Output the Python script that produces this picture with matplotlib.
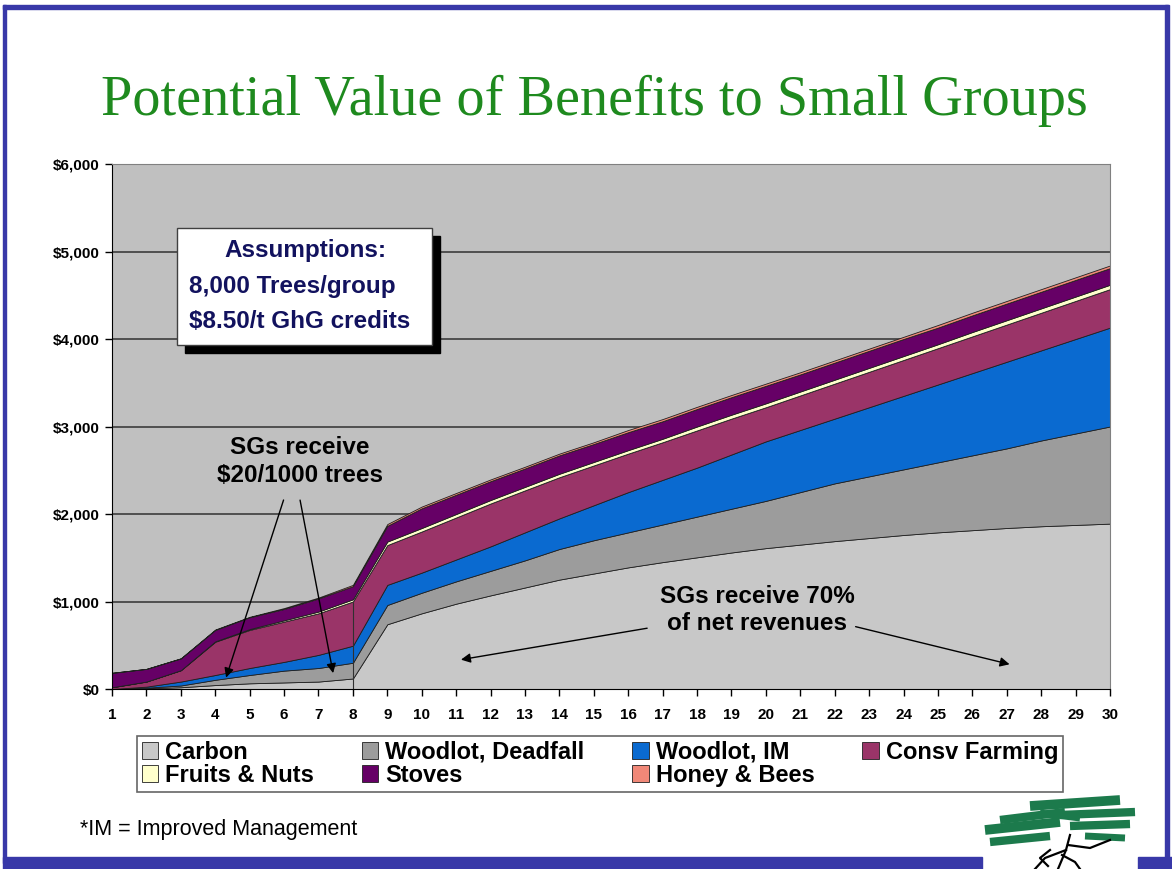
import numpy as np
import matplotlib.pyplot as plt
from matplotlib.patches import Rectangle

# values, dollars per year for one small group
years = list(range(1, 31))
carbon = [0, 8, 20, 45, 65, 75, 85, 120, 740, 865, 975, 1070, 1160, 1250, 1320,
          1390, 1450, 1505, 1560, 1610, 1650, 1690, 1725, 1760, 1790, 1815, 1840,
          1860, 1875, 1890]
deadfall = [0, 7, 20, 60, 95, 135, 155, 180, 220, 235, 255, 280, 310, 350, 380,
            400, 430, 465, 500, 540, 600, 660, 705, 750, 800, 855, 910, 980, 1045, 1110]
woodlot_im = [0, 12, 45, 55, 80, 100, 150, 195, 230, 230, 250, 280, 320, 350, 400,
              460, 510, 560, 620, 680, 710, 740, 790, 840, 890, 940, 990, 1030, 1080, 1130]
farming = [20, 58, 130, 380, 435, 460, 475, 505, 455, 470, 480, 490, 480, 470, 455,
           440, 430, 425, 410, 390, 395, 400, 405, 410, 415, 420, 425, 430, 435, 440]
fruits = [0, 0, 0, 5, 10, 15, 20, 25, 40, 40, 40, 40, 40, 40, 40, 40, 40, 45, 45,
          45, 45, 45, 45, 45, 45, 50, 50, 50, 50, 50]
stoves = [165, 145, 135, 130, 135, 130, 150, 150, 180, 225, 220, 215, 210, 210, 205,
          205, 200, 200, 200, 200, 195, 195, 195, 195, 190, 190, 190, 190, 190, 190]
honey = [0, 0, 0, 5, 5, 10, 10, 15, 20, 20, 20, 20, 20, 20, 20, 25, 25, 25, 25, 25,
         25, 25, 25, 25, 30, 30, 30, 30, 30, 30]

labels = ["Carbon", "Woodlot, Deadfall", "Woodlot, IM", "Consv Farming",
          "Fruits & Nuts", "Stoves", "Honey & Bees"]
colors = ["#c8c8c8", "#9c9c9c", "#0a6ad0", "#9a3468", "#ffffcc", "#660066", "#f08878"]
y_ticks = [0, 1000, 2000, 3000, 4000, 5000, 6000]

W, H = 1172, 869
fig = plt.figure(figsize=(W / 100, H / 100), dpi=100)

# slide decorations in pixel coordinates
bg = fig.add_axes([0, 0, 1, 1])
bg.set_xlim(0, W)
bg.set_ylim(H, 0)
bg.axis("off")
blue = "#3838a8"
bg.add_patch(Rectangle((3, 5), 1165, 4, color=blue))
bg.add_patch(Rectangle((3, 5), 3, 858, color=blue))
bg.add_patch(Rectangle((1165, 5), 4, 858, color=blue))
bg.add_patch(Rectangle((3, 857), 979, 12, color=blue))
bg.add_patch(Rectangle((1138, 857), 34, 12, color=blue))

# main chart
ax = fig.add_axes([112 / W, 1 - 689 / H, (1110 - 112) / W, (689 - 164) / H])
ax.set_facecolor("#c0c0c0")
series = [carbon, deadfall, woodlot_im, farming, fruits, stoves, honey]
polys = ax.stackplot(years, *series, labels=labels, colors=colors,
                     edgecolor="#202020", linewidth=0.6)
top_farm = np.sum(series[:4], axis=0)
ax.vlines(years[7], 0, top_farm[7], color="#303030", lw=0.8)

ax.set_xlim(1, 30)
ax.set_ylim(0, 6000)
ax.set_xticks(years)
ax.set_xticklabels([str(y) for y in years], fontweight="bold", fontsize=11,
                   family="Liberation Sans")
ax.set_yticks(y_ticks)
ax.set_yticklabels([f"${v:,}" for v in y_ticks], fontweight="bold", fontsize=11,
                   family="Liberation Sans")
ax.tick_params(direction="out", length=5, width=1, colors="black", pad=4)
ax.tick_params(axis="x", pad=9)
ax.yaxis.grid(True, color="#3c3c3c", lw=1.2)
ax.set_axisbelow(True)
for s in ["top", "right"]:
    ax.spines[s].set_color("#808080")
for s in ["left", "bottom"]:
    ax.spines[s].set_color("black")

bold = dict(fontweight="bold", family="Liberation Sans", fontsize=17.5)
ax.text(6.45, 2600, "SGs receive\n$20/1000 trees", ha="center", va="center",
        linespacing=1.25, **bold)
arrow = dict(arrowstyle="-|>", color="black", lw=1.0, mutation_scale=14)
ax.annotate("", xy=(4.29, 100), xytext=(6.01, 2190), arrowprops=arrow)
ax.annotate("", xy=(7.44, 150), xytext=(6.45, 2190), arrowprops=arrow)

ax.text(19.74, 905, "SGs receive 70%\nof net revenues", ha="center", va="center",
        linespacing=1.25, **bold)
ax.annotate("", xy=(11.06, 330), xytext=(16.63, 700), arrowprops=arrow)
ax.annotate("", xy=(27.16, 275), xytext=(22.53, 720), arrowprops=arrow)

# overlay for boxes and slide text
ov = fig.add_axes([0, 0, 1, 1], zorder=5)
ov.set_xlim(0, W)
ov.set_ylim(H, 0)
ov.axis("off")
ov.patch.set_alpha(0)
ov.add_patch(Rectangle((185, 236), 255, 117, color="black"))
ov.add_patch(Rectangle((177, 228), 255, 117, facecolor="white", edgecolor="#404040", lw=1))
navy = "#12125e"
ov.text(305, 251, "Assumptions:", ha="center", va="center", color=navy, **bold)
ov.text(189, 287, "8,000 Trees/group", ha="left", va="center", color=navy, **bold)
ov.text(189, 322, "$8.50/t GhG credits", ha="left", va="center", color=navy, **bold)

ov.text(594, 101, "Potential Value of Benefits to Small Groups", ha="center",
        va="center", fontsize=40.5, family="Liberation Serif", color="#1e8a1e")
ov.text(80, 830, "*IM = Improved Management", ha="left", va="center",
        fontsize=15.5, family="Liberation Sans")

# little tree logo
green = "#1c7a4c"
for (x0, y0, x1, y1, w) in [(985, 830, 1060, 822, 7), (990, 842, 1050, 836, 6),
                            (1000, 820, 1065, 812, 6), (1030, 806, 1120, 800, 7),
                            (1060, 815, 1135, 812, 6), (1070, 826, 1130, 824, 6),
                            (1085, 836, 1125, 838, 5), (1040, 813, 1080, 818, 5)]:
    ov.plot([x0, x1], [y0, y1], color=green, lw=w, solid_capstyle="butt")
for (xs, ys) in [([1070, 1066, 1058], [835, 850, 869]), ([1066, 1045, 1035], [850, 858, 869]),
                 ([1068, 1090, 1110], [845, 848, 840]), ([1062, 1075, 1080], [855, 862, 869]),
                 ([1050, 1040, 1048], [850, 858, 866])]:
    ov.plot(xs, ys, color="black", lw=1.6)

order = [0, 4, 1, 5, 2, 6, 3]
leg = fig.legend([polys[i] for i in order], [labels[i] for i in order], ncol=4,
                 loc="center", mode="expand",
                 bbox_to_anchor=(137 / W, 1 - 793 / H, (1063 - 137) / W, (793 - 735) / H),
                 prop=dict(family="Liberation Sans", weight="bold", size=17),
                 frameon=True, fancybox=False, edgecolor="#404040",
                 handlelength=0.7, handleheight=0.7, handletextpad=0.3,
                 borderaxespad=0, labelspacing=0.0, borderpad=0.2, columnspacing=1.0)
leg.get_frame().set_linewidth(1.2)
leg.set_zorder(6)

fig.savefig("out.png", dpi=100, facecolor="white")
